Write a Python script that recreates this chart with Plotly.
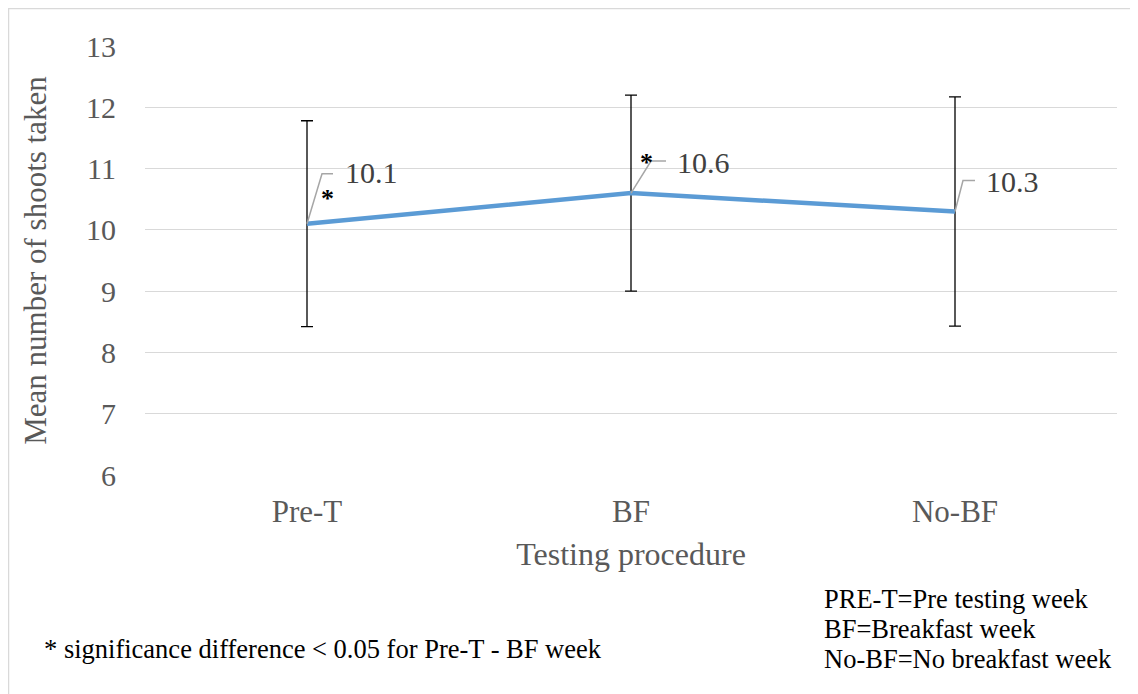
import plotly.graph_objects as go

categories = ["Pre-T", "BF", "No-BF"]
means = [10.1, 10.6, 10.3]
err_plus = [1.68, 1.60, 1.87]
err_minus = [1.68, 1.60, 1.87]
labels = ["10.1", "10.6", "10.3"]
significant = [True, True, False]
y_ticks = [6, 7, 8, 9, 10, 11, 12, 13]
footnote = "* significance difference < 0.05 for Pre-T - BF week"
key_lines = ["PRE-T=Pre testing week", "BF=Breakfast week", "No-BF=No breakfast week"]

FONT = "Liberation Serif, Times New Roman, serif"
xs = list(range(len(categories)))

fig = go.Figure()
fig.add_trace(go.Scatter(
    x=xs, y=means, mode="lines",
    line=dict(color="#5B9BD5", width=4.5),
    error_y=dict(type="data", symmetric=False, array=err_plus, arrayminus=err_minus,
                 color="black", thickness=1.3, width=6),
    hoverinfo="skip", showlegend=False,
))

# leader lines (pixel offsets relative to each point)
leaders = [
    [(0, 0), (15, 50), (26, 50)],
    [(0, 0), (20, 32), (35, 32)],
    [(0, 0), (8, 31), (20, 31)],
]
label_dx = [36, 44, 29]
label_dy = [51, 31, 30]
for i, pts in enumerate(leaders):
    path = "M" + " L".join(f"{dx},{dy}" for dx, dy in pts)
    fig.add_shape(type="path", path=path, xref="x", yref="y",
                  xsizemode="pixel", ysizemode="pixel",
                  xanchor=xs[i], yanchor=means[i],
                  line=dict(color="#A6A6A6", width=1.5))
    fig.add_annotation(x=xs[i], y=means[i], text=labels[i], showarrow=False,
                       xanchor="left", yanchor="middle",
                       xshift=label_dx[i], yshift=label_dy[i],
                       font=dict(family=FONT, size=30, color="#404040"))

star_dx = [20, 15]
star_dy = [25, 31]
for i, sig in enumerate(significant):
    if sig:
        fig.add_annotation(x=xs[i], y=means[i], text="<b>*</b>", showarrow=False,
                           xanchor="center", yanchor="middle",
                           xshift=star_dx[i], yshift=star_dy[i],
                           font=dict(family=FONT, size=26, color="black"))

# page is rendered with an 8px body offset
OFF = 8
W, H = 1138 - OFF, 694 - OFF
L, R, T, B = 145 - OFF, 1138 - 1117, 46 - OFF, 694 - 475
pw, ph = W - L - R, H - T - B

def px(x):
    return (x - OFF - L) / pw

def py(y):
    return (H - B - (y - OFF)) / ph

# outer frame
fig.add_shape(type="rect", xref="paper", yref="paper",
              x0=px(8.5), x1=px(1150), y0=py(720), y1=py(8.5),
              line=dict(color="#D9D9D9", width=1.5), layer="below")

fig.add_annotation(xref="paper", yref="paper", x=px(42), y=py(649),
                   text=footnote, showarrow=False, xanchor="left", yanchor="middle",
                   font=dict(family=FONT, size=26.5, color="black"))
for k, line in enumerate(key_lines):
    fig.add_annotation(xref="paper", yref="paper", x=px(822), y=py(599 + 30 * k),
                       text=line, showarrow=False, xanchor="left", yanchor="middle",
                       font=dict(family=FONT, size=26.5, color="black"))

fig.update_layout(
    width=W, height=H,
    margin=dict(l=L, r=R, t=T, b=B),
    paper_bgcolor="white", plot_bgcolor="white",
    font=dict(family=FONT, color="#595959"),
    xaxis=dict(range=[-0.5, 2.5], tickvals=xs, ticktext=categories,
               showgrid=False, zeroline=False, showline=False, ticks="",
               tickfont=dict(family=FONT, size=31, color="#595959"), ticklabelstandoff=15,
               title=dict(text="Testing procedure", font=dict(family=FONT, size=32, color="#595959"), standoff=14)),
    yaxis=dict(range=[6, 13], tickvals=y_ticks, showgrid=True, gridcolor="#D9D9D9", gridwidth=1.3,
               zeroline=False, showline=False, ticks="",
               tickfont=dict(family=FONT, size=30, color="#595959"), ticklabelstandoff=28,
               title=dict(text="Mean number of shoots taken", font=dict(family=FONT, size=31, color="#595959"), standoff=30)),
)

fig.write_html("out.html")
